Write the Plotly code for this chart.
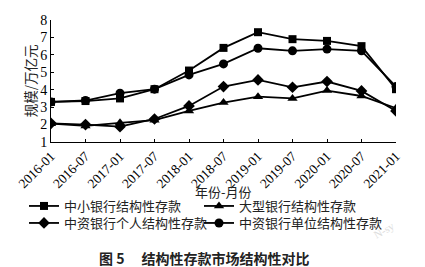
import plotly.graph_objects as go

months = ["2016-01", "2016-07", "2017-01", "2017-07", "2018-01", "2018-07",
          "2019-01", "2019-07", "2020-01", "2020-07", "2021-01"]
small_banks = [3.3, 3.35, 3.5, 4.03, 5.1, 6.4, 7.3, 6.9, 6.8, 6.5, 4.03]
large_banks = [2.05, 1.92, 2.1, 2.25, 2.78, 3.26, 3.6, 3.5, 3.95, 3.64, 2.94]
personal = [2.07, 2.0, 1.88, 2.32, 3.07, 4.18, 4.56, 4.14, 4.47, 3.93, 2.78]
corporate = [3.3, 3.38, 3.8, 4.03, 4.85, 5.48, 6.38, 6.23, 6.33, 6.23, 4.18]

names = ["中小银行结构性存款", "大型银行结构性存款", "中资银行个人结构性存款", "中资银行单位结构性存款"]
series = [small_banks, large_banks, personal, corporate]
symbols = ["square", "triangle-up", "diamond", "circle"]
sizes = [8, 9, 9, 9]
legend_ids = ["legend", "legend2", "legend3", "legend4"]

cjk = "Noto Sans CJK SC"
serif = "Liberation Serif"
xs = list(range(len(months)))

fig = go.Figure()
for n, s, sym, sz, lg in zip(names, series, symbols, sizes, legend_ids):
    fig.add_trace(go.Scatter(
        x=xs, y=s, name=n, mode="lines+markers", legend=lg,
        line=dict(color="black", width=1.8),
        marker=dict(symbol=sym, size=sz, color="black"),
    ))

leg_common = dict(orientation="v", xref="container", yref="container",
                  xanchor="left", yanchor="middle", tracegroupgap=0,
                  font=dict(family=cjk, size=13, color="#222"),
                  itemwidth=30, bgcolor="rgba(0,0,0,0)")
col1, col2 = 24 / 425, 199 / 425
row1, row2 = (267 - 206) / 267, (267 - 223) / 267

fig.update_layout(
    width=425, height=267,
    margin=dict(l=51, r=29, t=20, b=125, autoexpand=False),
    paper_bgcolor="white", plot_bgcolor="white",
    showlegend=True,
    legend=dict(x=col1, y=row1, **leg_common),
    legend2=dict(x=col2, y=row1, **leg_common),
    legend3=dict(x=col1, y=row2, **leg_common),
    legend4=dict(x=col2, y=row2, **leg_common),
    xaxis=dict(
        range=[0, 10], tickmode="array", tickvals=xs, ticktext=months,
        tickangle=-45, ticks="inside", ticklen=3, tickcolor="black",
        showline=True, linecolor="black", linewidth=1, showgrid=False, zeroline=False,
        tickfont=dict(family=serif, size=13.5, color="black"),
        automargin=False,
    ),
    yaxis=dict(
        range=[1, 8], tickvals=[1, 2, 3, 4, 5, 6, 7, 8],
        ticks="inside", ticklen=3, tickcolor="black",
        showline=True, linecolor="black", linewidth=1, showgrid=False, zeroline=False,
        tickfont=dict(family=serif, size=14, color="black"),
        automargin=False,
    ),
)

# axis titles
fig.add_annotation(text="规模/万亿元", xref="paper", yref="paper", x=-0.06, y=0.5,
                   textangle=-90, showarrow=False, xanchor="center", yanchor="middle",
                   font=dict(family=cjk, size=13.5, color="#222"))
fig.add_annotation(text="年份-月份", xref="paper", yref="paper", x=0.5, y=-0.405,
                   showarrow=False, xanchor="center", yanchor="middle",
                   font=dict(family=cjk, size=13, color="#222"))
fig.add_annotation(text="<b>图 5</b>　 <b>结构性存款市场结构性对比</b>", xref="paper", yref="paper",
                   x=0.446, y=-0.95, xanchor="center", yanchor="middle", showarrow=False,
                   font=dict(family=cjk, size=14, color="#222"))
fig.add_annotation(text="N-sy", xref="paper", yref="paper", x=1.01, y=-0.83,
                   showarrow=False, textangle=-30,
                   font=dict(family=serif, size=11, color="#ddd"))

fig.write_html("out.html")
